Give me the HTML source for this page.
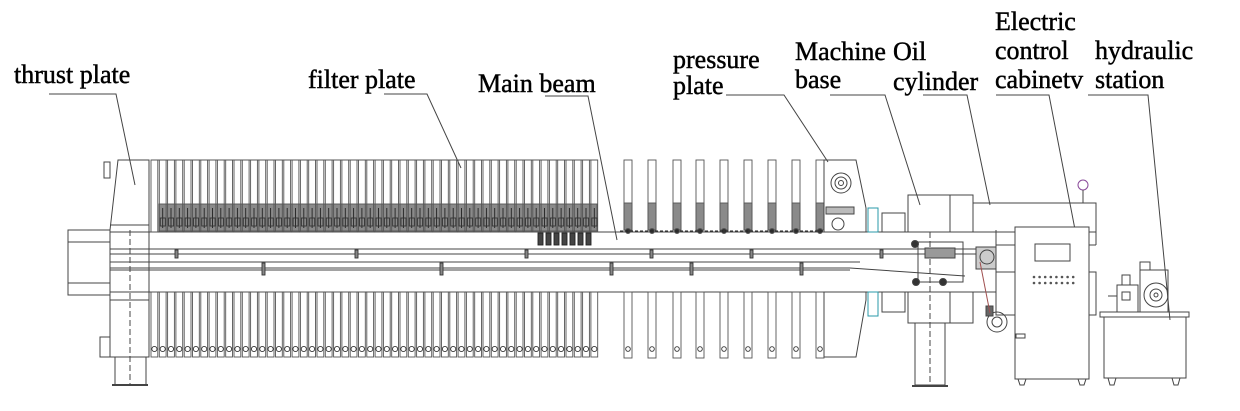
<!DOCTYPE html>
<html><head><meta charset="utf-8">
<style>
html,body{margin:0;padding:0;background:#fff;}
svg{display:block;}
text{font-family:"Liberation Serif",serif;font-size:26px;fill:#000;stroke:#000;stroke-width:0.45;}
</style></head>
<body>
<svg id="s" width="1240" height="411" viewBox="0 0 1240 411" xmlns="http://www.w3.org/2000/svg">
<g fill="none" stroke="#444" stroke-width="1">
<polyline points="49,94 116,94 135,185"/>
<polyline points="384,94 427,94 461,168"/>
<polyline points="545,96 588,96 617,240"/>
<polyline points="726,95 784,95 828,162"/>
<polyline points="830,95 885,95 920,205"/>
<polyline points="923,95 967,95 990,205"/>
<polyline points="996,95 1049,95 1078,245"/>
<polyline points="1088,95 1148,95 1170,320"/>

<rect x="68" y="230" width="42" height="65"/>
<line x1="68" y1="242" x2="110" y2="242"/>
<line x1="68" y1="283" x2="110" y2="283"/>
<polygon points="118,160 149,160 149,357 110,357 110,230"/>
<line x1="110" y1="225" x2="149" y2="225"/>
<line x1="110" y1="300" x2="149" y2="300"/>
<line x1="130" y1="230" x2="130" y2="385" stroke-dasharray="6,3"/>
<rect x="104" y="162" width="6" height="16"/>
<rect x="100" y="337" width="10" height="20"/>
<rect x="115" y="357" width="31" height="28"/>
<line x1="112" y1="385" x2="148" y2="385" stroke-width="2"/>

<line x1="110" y1="232" x2="996" y2="232"/>
<line x1="110" y1="249" x2="996" y2="249"/>
<line x1="110" y1="254" x2="996" y2="254"/>
<line x1="110" y1="262" x2="860" y2="262"/>
<line x1="110" y1="268" x2="850" y2="268"/>
<line x1="110" y1="270" x2="850" y2="270"/>
<line x1="850" y1="268" x2="965" y2="276"/>
<line x1="110" y1="292" x2="996" y2="292"/>
<line x1="996" y1="230" x2="996" y2="292"/>
</g>
<g id="plates" fill="none" stroke="#555" stroke-width="0.9"></g>
<g fill="none" stroke="#444" stroke-width="1">
<polygon points="824,160 856,160 866,208 866,232 824,232"/>
<polygon points="824,292 866,292 866,300 856,357 824,357"/>
<circle cx="841" cy="183" r="10"/><circle cx="841" cy="183" r="6"/><circle cx="841" cy="183" r="2.5"/>
<circle cx="838" cy="224" r="6"/>
<rect x="826" y="207" width="28" height="7" fill="#bbb"/>
<rect x="868" y="208" width="10" height="24" stroke="#2a9aa8"/>
<rect x="868" y="292" width="10" height="24" stroke="#2a9aa8"/>
<rect x="882" y="213" width="23" height="19"/>
<rect x="882" y="292" width="23" height="20"/>
<rect x="908" y="195" width="65" height="37"/>
<line x1="950" y1="195" x2="950" y2="232"/>
<rect x="908" y="292" width="65" height="31"/>
<line x1="950" y1="292" x2="950" y2="323"/>
<rect x="973" y="203" width="123" height="29"/>
<line x1="996" y1="245" x2="1096" y2="245"/><line x1="1096" y1="232" x2="1096" y2="245"/>
<rect x="996" y="272" width="100" height="43"/>
<rect x="915" y="323" width="30" height="62"/>
<line x1="930" y1="232" x2="930" y2="385" stroke-dasharray="6,3"/>
<line x1="912" y1="386" x2="948" y2="386" stroke-width="2"/>
<rect x="918" y="242" width="45" height="40"/>
<rect x="925" y="248" width="30" height="10" fill="#999"/>
<circle cx="915" cy="244" r="3.5" fill="#333"/>
<circle cx="916" cy="282" r="3.5" fill="#333"/>
<circle cx="943" cy="282" r="3.5" fill="#333"/>
<rect x="976" y="247" width="20" height="22" fill="#ccc"/>
<circle cx="987" cy="257" r="7"/>
<circle cx="997" cy="322" r="10"/><circle cx="997" cy="322" r="5"/>
<rect x="986" y="306" width="7" height="10" fill="#666"/>
<line x1="980" y1="262" x2="990" y2="313" stroke="#a05050"/>
<circle cx="1083" cy="185" r="5" stroke="#8a4a9a"/>
<line x1="1083" y1="190" x2="1083" y2="203"/>
<rect x="1015" y="227" width="74" height="152" fill="#fff"/>
<rect x="1035" y="244" width="35" height="17"/>
<path d="M1018 379 l2 6 h4 l2 -6 M1078 379 l2 6 h4 l2 -6"/>
<rect x="1016" y="334" width="9" height="4"/>
</g>
<g id="dots" fill="#555"></g>
<g fill="none" stroke="#444" stroke-width="1">
<rect x="1100" y="312" width="89" height="5"/>
<rect x="1104" y="317" width="82" height="61"/>
<path d="M1108 378 l2 7 h4 l2 -7 M1172 378 l2 7 h4 l2 -7"/>
<rect x="1117" y="285" width="21" height="27"/>
<rect x="1122" y="275" width="8" height="10"/>
<rect x="1122" y="292" width="8" height="8"/>
<rect x="1140" y="270" width="28" height="42"/>
<circle cx="1156" cy="295" r="12"/><circle cx="1156" cy="295" r="6"/><circle cx="1156" cy="295" r="2"/>
<path d="M1140 282 v-20 h10 v8"/>
<line x1="1108" y1="296" x2="1117" y2="296"/>
</g>
<text x="14" y="83">thrust plate</text>
<text x="308" y="88">filter plate</text>
<text x="478" y="92">Main beam</text>
<text x="673" y="68">pressure</text>
<text x="673" y="94">plate</text>
<text x="795" y="60">Machine</text>
<text x="795" y="88">base</text>
<text x="893" y="60">Oil</text>
<text x="893" y="90">cylinder</text>
<text x="995" y="30">Electric</text>
<text x="995" y="59">control</text>
<text x="995" y="88">cabinetv</text>
<text x="1095" y="59">hydraulic</text>
<text x="1095" y="88">station</text>
</svg>
<script>
var NS="http://www.w3.org/2000/svg";
function el(p,t,a){var e=document.createElementNS(NS,t);for(var k in a)e.setAttribute(k,a[k]);p.appendChild(e);return e;}
var g=document.getElementById("plates");
el(g,"rect",{x:159,y:204,width:438,height:27,fill:"#8a8a8a",stroke:"#555"});
for(var i=0;i<54;i++){
 var x=151+i*8.3;
 el(g,"rect",{x:x,y:160,width:6.8,height:72});
 el(g,"rect",{x:x,y:292,width:6.8,height:65});
 el(g,"circle",{cx:x+3.4,cy:349,r:2.6,stroke:"#333"});
 if(i>0){el(g,"line",{x1:x+3.4,y1:208,x2:x+3.4,y2:228,stroke:"#222"});
 el(g,"rect",{x:x+1,y:218,width:5,height:8,stroke:"#333"});}
}
el(g,"line",{x1:151,y1:160,x2:598,y2:160});
for(var j=0;j<7;j++){el(g,"rect",{x:538+j*8,y:233,width:5,height:12,fill:"#444",stroke:"#222"});}
[175,262,355,440,525,610,650,690,750,800,880].forEach(function(x,k){
 el(g,"rect",{x:x,y:k%2?263:250,width:3,height:k%2?12:8,stroke:"#333",fill:"#888"});});
var sp=[624,648,673,696,720,744,768,792,816];
sp.forEach(function(x){
 el(g,"rect",{x:x,y:160,width:8,height:72});
 el(g,"rect",{x:x,y:203,width:8,height:27,fill:"#8a8a8a"});
 el(g,"circle",{cx:x+4,cy:231,r:2.5,fill:"#333"});
 el(g,"rect",{x:x,y:292,width:8,height:66});
 el(g,"circle",{cx:x+4,cy:349,r:2.3,stroke:"#333"});
});
el(g,"line",{x1:620,y1:231,x2:824,y2:231,"stroke-dasharray":"3,2",stroke:"#222"});
var d=document.getElementById("dots");
for(var r=0;r<2;r++)for(var c=0;c<8;c++)el(d,"circle",{cx:1034+c*5.6,cy:277+r*6,r:1.3});
</script>
</body></html>
